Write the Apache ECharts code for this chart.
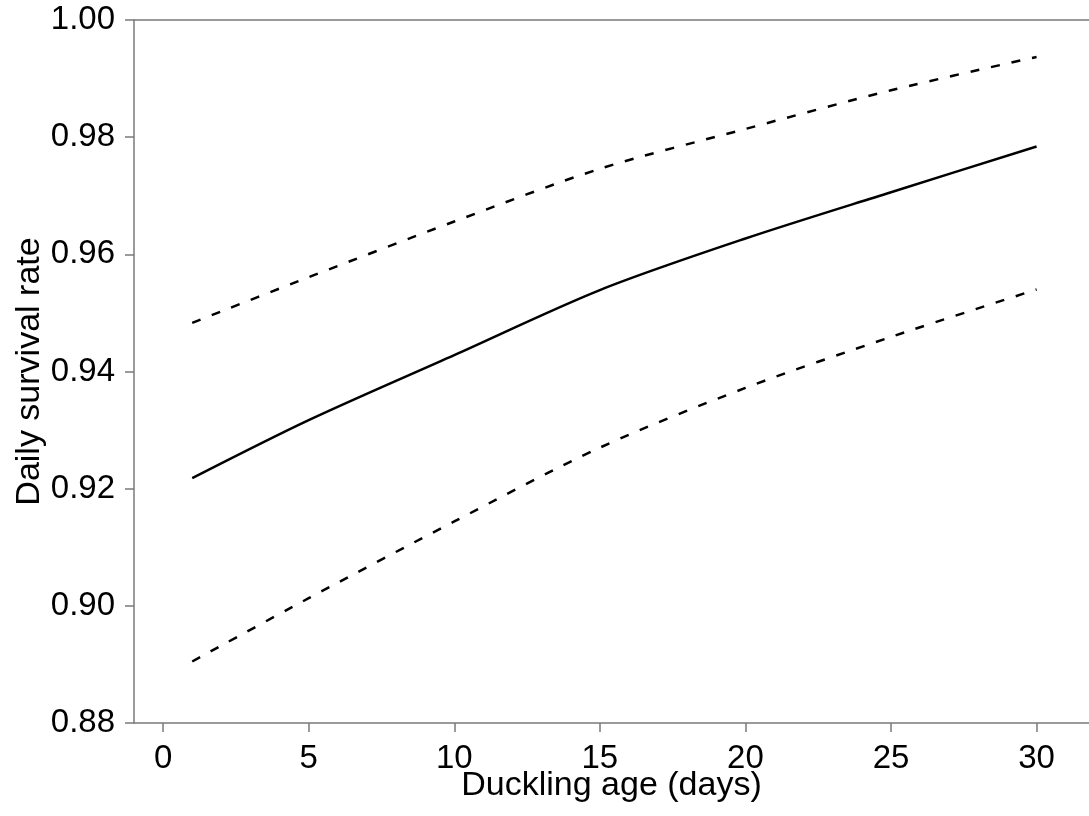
<!DOCTYPE html>
<html>
<head>
<meta charset="utf-8">
<script src="https://cdn.jsdelivr.net/npm/echarts@6/dist/echarts.min.js"></script>
<style>
  html,body{margin:0;padding:0;background:#fff;}
  #chart{width:1089px;height:816px;}
</style>
</head>
<body>
<div id="chart"></div>
<script>
// duckling age (days)
const days = [1, 5, 10, 15, 20, 25, 30]
// estimate + confidence limits
const dsr = [0.9218, 0.9317, 0.9428, 0.9539, 0.9627, 0.9706, 0.9784]
const upper = [0.9483, 0.9561, 0.9656, 0.9746, 0.9814, 0.9880, 0.9937]
const lower = [0.8905, 0.9013, 0.9144, 0.9270, 0.9372, 0.9459, 0.9540]
const xTicks = [0, 5, 10, 15, 20, 25, 30]

const axisGray = '#7a7a7a'
const font = 'Liberation Sans, Arial, sans-serif'

let chart = echarts.init(document.getElementById('chart'))

function pairs(ys){
  return days.map((d,i)=>[d, ys[i]])
}

let option = {
  animation:false,
  backgroundColor:'#fff',
  grid:{
    left:134,
    top:20,
    right:0,
    bottom:93
  },
  xAxis:[
    {
      type:'value',
      min:-1,
      max:31.8,
      name:'Duckling age (days)',
      nameLocation:'middle',
      nameGap:46,
      nameMoveOverlap:false,
      nameTextStyle:{color:'#000',fontSize:34,fontFamily:font,verticalAlign:'top'},
      axisLine:{show:true,onZero:false,lineStyle:{color:axisGray,width:1.5}},
      axisTick:{show:true,length:9,customValues:xTicks,lineStyle:{color:axisGray,width:1.5}},
      axisLabel:{color:'#000',fontSize:33,fontFamily:font,margin:19,customValues:xTicks},
      splitLine:{show:false}
    },
    {
      // top frame line only
      type:'value',
      position:'top',
      min:-1,
      max:31.8,
      axisLine:{show:true,onZero:false,lineStyle:{color:axisGray,width:1.5}},
      axisTick:{show:false},
      axisLabel:{show:false},
      splitLine:{show:false}
    }
  ],
  yAxis:{
    type:'value',
    min:0.88,
    max:1.00,
    interval:0.02,
    name:'Daily survival rate',
    nameLocation:'middle',
    nameGap:87,
    nameMoveOverlap:false,
    nameTextStyle:{color:'#000',fontSize:34,fontFamily:font},
    axisLine:{show:true,onZero:false,lineStyle:{color:axisGray,width:1.5}},
    axisTick:{show:true,length:9,lineStyle:{color:axisGray,width:1.5}},
    axisLabel:{color:'#000',fontSize:33,fontFamily:font,margin:19,formatter:v=>v.toFixed(2)},
    splitLine:{show:false}
  },
  series:[
    {
      type:'line',
      data:pairs(dsr),
      showSymbol:false,
      smooth:0.3,
      lineStyle:{color:'#000',width:2.5}
    },
    {
      type:'line',
      data:pairs(upper),
      showSymbol:false,
      smooth:0.3,
      lineStyle:{color:'#000',width:2.5,type:[9,12]}
    },
    {
      type:'line',
      data:pairs(lower),
      showSymbol:false,
      smooth:0.3,
      lineStyle:{color:'#000',width:2.5,type:[9,12]}
    }
  ]
}
chart.setOption(option)
</script>
</body>
</html>
